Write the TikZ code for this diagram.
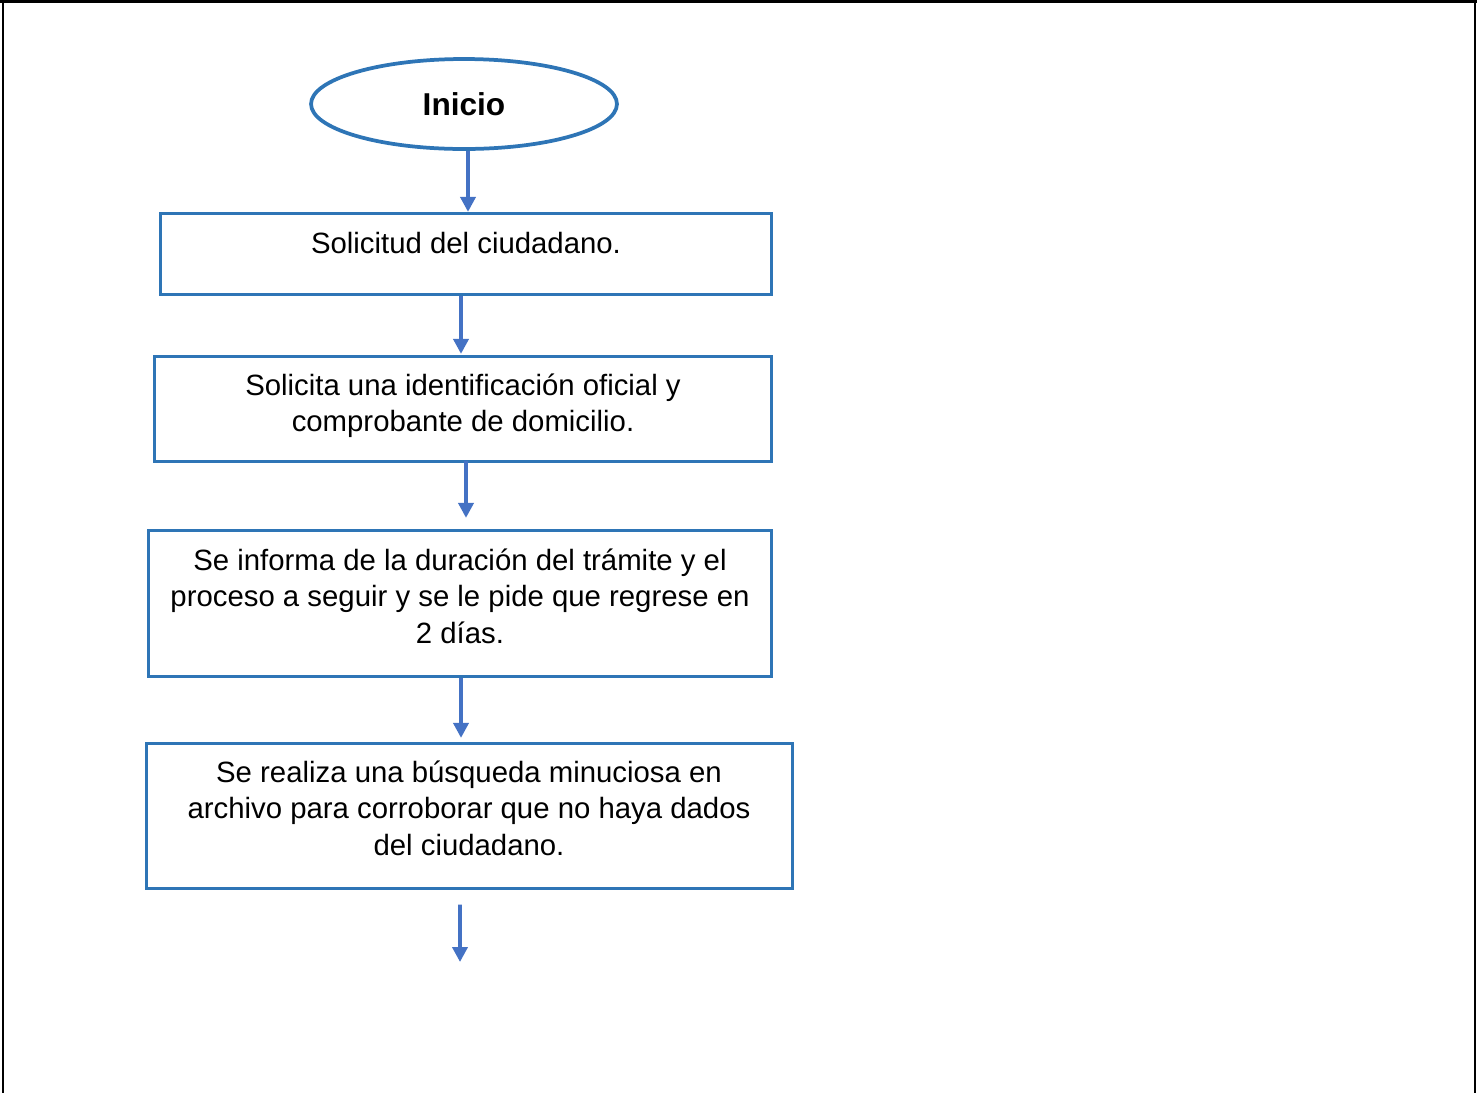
\documentclass[tikz,border=0pt]{standalone}
\usepackage{fontspec}
\setmainfont{Liberation Sans}
\usetikzlibrary{positioning, arrows.meta, shapes.geometric}
\definecolor{borde}{HTML}{2E75B6}
\definecolor{azulflecha}{HTML}{4472C4}

\begin{document}
\begin{tikzpicture}[x=0.02cm, y=-0.02cm, >={Triangle[width=0.3cm, length=0.3cm]},
    caja/.style={draw=borde, line width=0.065cm, rectangle},
    texto/.style={align=center, font=\fontsize{16.7}{20.7}\selectfont},
    paso/.style={->, draw=azulflecha, line width=0.075cm}]
                \useasboundingbox (0,0) rectangle (1477,1093);
                % marco de la tabla
                \draw[line width=0.05cm] (0,1.5) -- (1477,1.5);
                \draw[line width=0.05cm] (3,1.5) -- (3,1093);
                \draw[line width=0.05cm] (1475,1.5) -- (1475,1093);
                \draw[line width=0.03cm] (743,0) -- (743,1.5);

                \node[caja, ellipse, line width=0.075cm, minimum width=6.12cm, minimum height=1.8cm,
                      font=\fontsize{18}{22}\selectfont\bfseries] (ini) at (464,104) {Inicio};
                \node[caja, minimum width=12.22cm, minimum height=1.62cm] (sol) at (466,254) {};
                \node[texto] (tsol) at (466,243) {Solicitud del ciudadano.};
                \node[caja, minimum width=12.34cm, minimum height=2.1cm] (ide) at (463,409) {};
                \node[texto] (tide) at (463,406) {Solicita una identificación oficial y\\comprobante de domicilio.};
                \node[caja, minimum width=12.46cm, minimum height=2.92cm] (inf) at (460,603.5) {};
                \node[texto] (tinf) at (460,596) {Se informa de la duración del trámite y el\\proceso a seguir y se le pide que regrese en\\2 días.};
                \node[caja, minimum width=12.92cm, minimum height=2.9cm] (bus) at (469.5,816) {};
                \node[texto] (tbus) at (469,808) {Se realiza una búsqueda minuciosa en\\archivo para corroborar que no haya dados\\del ciudadano.};
                \coordinate (fin) at (460,962);

                \draw[paso] ([xshift=0.08cm]ini.south) -- ([xshift=0.04cm]sol.north);
                \draw[paso] ([xshift=-0.1cm]sol.south) -- ([xshift=-0.04cm, yshift=0.02cm]ide.north);
                \draw[paso] ([xshift=0.06cm, yshift=0.05cm]ide.south) -- ([xshift=0.12cm, yshift=0.22cm]inf.north);
                \draw[paso] ([xshift=0.02cm]inf.south) -- ([xshift=-0.17cm, yshift=0.08cm]bus.north);
                \draw[paso] ([xshift=-0.19cm, yshift=-0.29cm]bus.south) -- (fin);
\end{tikzpicture}
\end{document}
